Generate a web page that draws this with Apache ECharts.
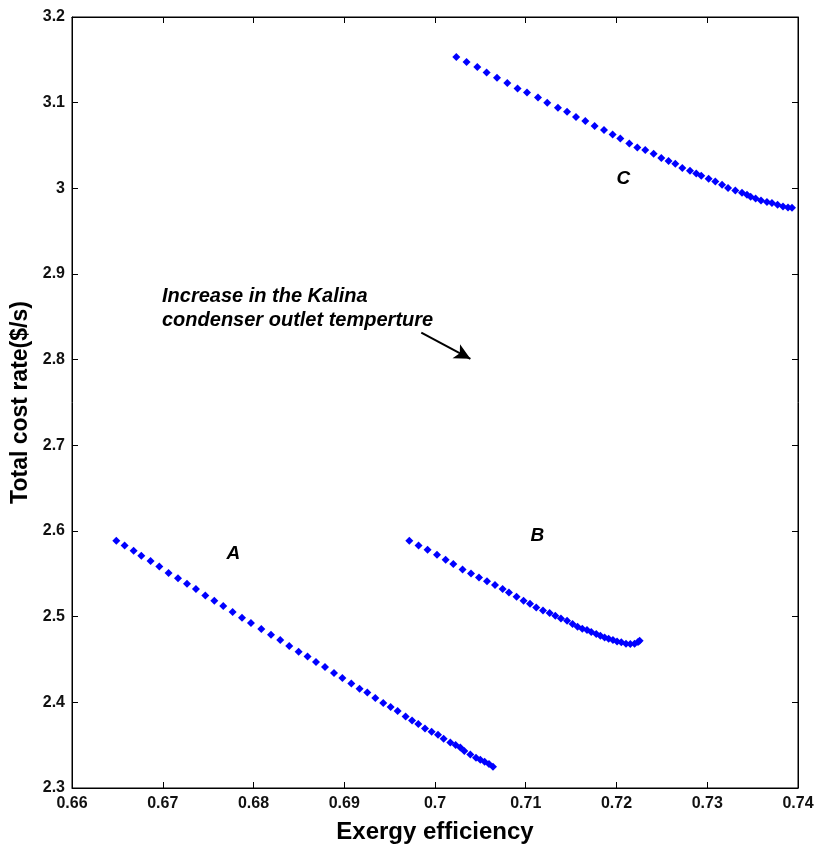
<!DOCTYPE html>
<html>
<head>
<meta charset="utf-8">
<script src="https://cdn.jsdelivr.net/npm/echarts@6/dist/echarts.min.js"></script>
<style>html,body{margin:0;padding:0;background:#fff;}#c{width:821px;height:845px;}</style>
</head>
<body>
<div id="c"></div>
<script>
// Series A
var aX = [0.66488,0.66580,0.66679,0.66764,0.66866,0.66962,0.67064,0.67168,0.67267,0.67366,0.67469,0.67568,0.67667,0.67770,0.67873,0.67972,0.68086,0.68193,0.68295,0.68394,0.68497,0.68596,0.68689,0.68788,0.68887,0.68979,0.69078,0.69169,0.69254,0.69342,0.69430,0.69511,0.69588,0.69676,0.69747,0.69816,0.69890,0.69963,0.70033,0.70095,0.70169,0.70227,0.70279,0.70323,0.70389,0.70452,0.70499,0.70547,0.70595,0.70639];
var aY = [2.5887,2.5832,2.5770,2.5712,2.5650,2.5587,2.5510,2.5447,2.5385,2.5323,2.5248,2.5186,2.5124,2.5054,2.4988,2.4926,2.4856,2.4789,2.4728,2.4658,2.4591,2.4536,2.4471,2.4412,2.4342,2.4284,2.4221,2.4159,2.4116,2.4051,2.3992,2.3945,2.3899,2.3836,2.3789,2.3747,2.3696,2.3657,2.3622,2.3575,2.3532,2.3502,2.3474,2.3432,2.3392,2.3354,2.3330,2.3307,2.3280,2.3249];
// Series B
var bX = [0.69717,0.69819,0.69918,0.70022,0.70117,0.70202,0.70304,0.70397,0.70485,0.70573,0.70661,0.70745,0.70815,0.70899,0.70976,0.71047,0.71116,0.71190,0.71263,0.71326,0.71388,0.71455,0.71516,0.71571,0.71623,0.71675,0.71722,0.71777,0.71822,0.71869,0.71913,0.71961,0.72006,0.72053,0.72105,0.72152,0.72199,0.72237,0.72255];
var bY = [2.5887,2.5832,2.5782,2.5723,2.5665,2.5615,2.5552,2.5505,2.5458,2.5412,2.5370,2.5323,2.5283,2.5233,2.5186,2.5151,2.5108,2.5073,2.5043,2.5011,2.4980,2.4953,2.4914,2.4883,2.4859,2.4844,2.4821,2.4798,2.4778,2.4758,2.4743,2.4728,2.4711,2.4700,2.4684,2.4681,2.4684,2.4704,2.4719];
// Series C
var cX = [0.70235,0.70348,0.70466,0.70569,0.70683,0.70797,0.70910,0.71014,0.71135,0.71237,0.71355,0.71455,0.71554,0.71656,0.71759,0.71862,0.71957,0.72042,0.72141,0.72229,0.72317,0.72409,0.72494,0.72574,0.72648,0.72725,0.72810,0.72879,0.72934,0.73015,0.73089,0.73163,0.73229,0.73309,0.73383,0.73438,0.73478,0.73533,0.73592,0.73658,0.73713,0.73775,0.73835,0.73890,0.73934];
var cY = [3.1533,3.1474,3.1416,3.1353,3.1291,3.1229,3.1166,3.1120,3.1061,3.0999,3.0941,3.0894,3.0832,3.0786,3.0727,3.0681,3.0629,3.0583,3.0524,3.0478,3.0447,3.0404,3.0354,3.0319,3.0287,3.0237,3.0206,3.0174,3.0147,3.0112,3.0081,3.0042,3.0004,2.9976,2.9949,2.9925,2.9902,2.9882,2.9859,2.9840,2.9829,2.9809,2.9789,2.9777,2.9774];
// Curve labels
var labelNames = ['A','B','C'];
var labelX = [0.67788,0.71138,0.72086];
var labelY = [2.5723,2.5933,3.0101];
// Arrow annotation (data coordinates)
var arrowFrom = [0.69849,2.8315];
var arrowTo = [0.70390,2.8010];
var annotationLines = ['Increase in the Kalina','condenser outlet temperture'];

function zip(xs, ys){ return xs.map(function(x,i){ return [x, ys[i]]; }); }

var FF = 'Liberation Sans, Arial, sans-serif';
var tickFont = {fontFamily:FF, fontWeight:'bold', fontSize:16, color:'#111'};
var marker = {symbol:'diamond', symbolSize:8, itemStyle:{color:'#0000ff', opacity:1}};

var chart = echarts.init(document.getElementById('c'), null, {renderer:'canvas'});
chart.setOption({
  animation:false,
  backgroundColor:'#fff',
  grid:{left:72, right:23, top:17, bottom:57, show:true, borderColor:'#000', borderWidth:1, backgroundColor:'#fff', containLabel:false, outerBoundsMode:'none'},
  xAxis:[{
    type:'value', min:0.66, max:0.74, interval:0.01, position:'bottom',
    name:'Exergy efficiency', nameLocation:'middle', nameGap:32,
    nameTextStyle:{fontFamily:FF, fontWeight:'bold', fontSize:24, color:'#000'},
    axisLine:{show:true, onZero:false, lineStyle:{color:'#000', width:1}},
    axisTick:{show:true, inside:true, length:6, lineStyle:{color:'#000'}},
    axisLabel:Object.assign({margin:8}, tickFont),
    splitLine:{show:false}
  },{
    type:'value', min:0.66, max:0.74, interval:0.01, position:'top',
    axisLine:{show:true, onZero:false, lineStyle:{color:'#000'}},
    axisTick:{show:true, inside:true, length:6, lineStyle:{color:'#000'}},
    axisLabel:{show:false}, splitLine:{show:false}
  }],
  yAxis:[{
    type:'value', min:2.3, max:3.2, interval:0.1, position:'left',
    name:'Total cost rate($/s)', nameLocation:'middle', nameGap:40,
    nameTextStyle:{fontFamily:FF, fontWeight:'bold', fontSize:23, color:'#000'},
    axisLine:{show:true, onZero:false, lineStyle:{color:'#000'}},
    axisTick:{show:true, inside:true, length:6, lineStyle:{color:'#000'}},
    axisLabel:Object.assign({margin:7, formatter:function(v){return String(Math.round(v*10)/10);}}, tickFont),
    splitLine:{show:false}
  },{
    type:'value', min:2.3, max:3.2, interval:0.1, position:'right',
    axisLine:{show:true, onZero:false, lineStyle:{color:'#000'}},
    axisTick:{show:true, inside:true, length:6, lineStyle:{color:'#000'}},
    axisLabel:{show:false}, splitLine:{show:false}
  }],
  series:[
    Object.assign({type:'scatter', name:'A', data:zip(aX,aY)}, marker),
    Object.assign({type:'scatter', name:'B', data:zip(bX,bY)}, marker),
    Object.assign({type:'scatter', name:'C', data:zip(cX,cY),
      markLine:{
        silent:true, symbol:['none','arrow'], symbolSize:[12,16],
        lineStyle:{color:'#000', width:2, type:'solid'},
        label:{show:false},
        data:[[{coord:arrowFrom},{coord:arrowTo}]]
      }}, marker),
    {
      type:'scatter', name:'labels', symbol:'circle', symbolSize:2,
      itemStyle:{color:'rgba(255,255,255,0)'},
      data:labelNames.map(function(n,i){ return {name:n, value:[labelX[i], labelY[i]]}; }),
      label:{show:true, position:[0,0], align:'center', verticalAlign:'middle',
        formatter:function(p){return p.name;}, fontFamily:FF, opacity:1, textBorderWidth:0,
        fontWeight:'bold', fontStyle:'italic', fontSize:19, color:'#000'}
    }
  ],
  graphic:[{
    type:'text', left:162, top:284,
    style:{text:annotationLines.join('\n'), fill:'#000', lineHeight:24,
      font:'italic bold 20px "Liberation Sans", Arial, sans-serif'}
  }]
});
</script>
</body>
</html>
